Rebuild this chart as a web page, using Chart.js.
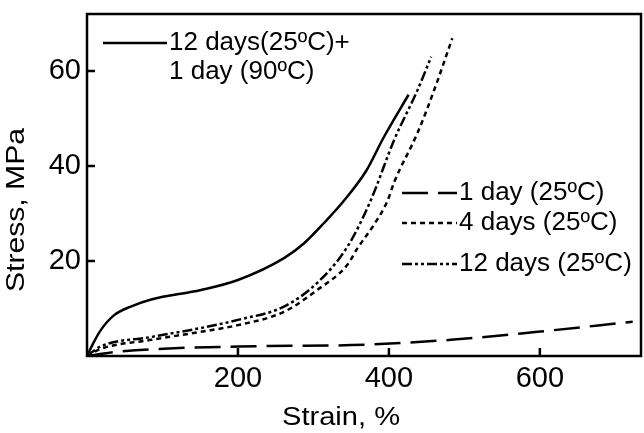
<!DOCTYPE html>
<html>
<head>
<meta charset="utf-8">
<script src="https://cdn.jsdelivr.net/npm/chart.js@4.4.1/dist/chart.umd.min.js"></script>
<style>
  html, body { margin: 0; padding: 0; background: #fff; }
  #wrap { width: 644px; height: 433px; }
</style>
</head>
<body>
<div id="wrap"><canvas id="chartStress"></canvas></div>
<script>
Chart.defaults.font.family = "'Liberation Sans', Arial, sans-serif";
Chart.defaults.color = '#000';

// 12 days(25ºC)+1 day (90ºC)
const strainCured = [0, 8, 18, 36, 58, 85, 151, 200, 261, 288, 314, 342, 370, 393, 426];
const stressCured = [0, 2.6, 5.4, 8.6, 10.4, 11.9, 13.9, 16, 20.6, 23.8, 28, 33, 39, 46, 55];
// 1 day (25ºC)
const strain1d = [0, 40, 200, 350, 482, 597, 723];
const stress1d = [0, 0.9, 2, 2.3, 3.4, 5.1, 7.2];
// 4 days (25ºC)
const strain4d = [0, 18, 85, 151, 200, 261, 305, 345, 358, 380, 398, 407, 438, 460, 484];
const stress4d = [0, 1.5, 3.4, 5.1, 6.5, 9.3, 13.9, 19.2, 22.6, 27.6, 32.6, 36.6, 47, 56, 66.9];
// 12 days (25ºC)
const strain12d = [0, 18, 85, 151, 200, 261, 305, 345, 376, 407, 438, 456];
const stress12d = [0, 2, 4, 5.9, 7.6, 10.4, 15.4, 23, 32.8, 45.5, 56, 63];

const xTicks = [200, 400, 600];
const yTicks = [20, 40, 60];

const xTitle = 'Strain, %';
const yTitle = 'Stress, MPa';
const seriesLabels = ['12 days(25ºC)+', '1 day (25ºC)', '4 days (25ºC)', '12 days (25ºC)'];
const dashes = [[], [26, 10], [5, 4], [10, 3, 3, 3, 3, 3]];

const pts = (xs, ys) => xs.map((x, i) => ({ x: x, y: ys[i] }));

const makeSet = (label, data, dash) => ({
    label: label,
    data: data,
    borderColor: '#000',
    borderWidth: 2.5,
    borderDash: dash,
    pointRadius: 0,
    fill: false,
    cubicInterpolationMode: 'monotone'
});

// axis title drawn a bit wider than the font, like the original figure
function stretchedText(ctx, text, cx, cy, width, rot) {
    ctx.save();
    ctx.translate(cx, cy);
    ctx.rotate(rot);
    const w = ctx.measureText(text).width;
    ctx.scale(width / w, 1);
    ctx.textAlign = 'center';
    ctx.textBaseline = 'middle';
    ctx.fillText(text, 0, 0);
    ctx.restore();
}

// frame, inward ticks, titles and the in-plot legend
const framePlugin = {
    id: 'frame',
    afterDraw(chart) {
        const ctx = chart.ctx;
        const a = chart.chartArea;
        const xs = chart.scales.x, ys = chart.scales.y;
        ctx.save();
        ctx.strokeStyle = '#000';
        ctx.lineWidth = 2.5;
        ctx.strokeRect(a.left, a.top, a.right - a.left, a.bottom - a.top);
        ctx.beginPath();
        xTicks.forEach(v => {
            const px = xs.getPixelForValue(v);
            ctx.moveTo(px, a.bottom);
            ctx.lineTo(px, a.bottom - 8);
        });
        yTicks.forEach(v => {
            const py = ys.getPixelForValue(v);
            ctx.moveTo(a.left, py);
            ctx.lineTo(a.left + 8, py);
        });
        ctx.stroke();

        ctx.fillStyle = '#000';
        ctx.font = "25px 'Liberation Sans', Arial, sans-serif";
        stretchedText(ctx, xTitle, 341, 418, 118, 0);
        stretchedText(ctx, yTitle, 17, 210, 164, -Math.PI / 2);

        // legend
        ctx.font = "26px 'Liberation Sans', Arial, sans-serif";
        ctx.textBaseline = 'middle';
        const rows = [
            { i: 0, x1: 103, x2: 167, y: 43 },
            { i: 1, x1: 402, x2: 457, y: 193 },
            { i: 2, x1: 402, x2: 457, y: 223 },
            { i: 3, x1: 402, x2: 457, y: 264 }
        ];
        rows.forEach(r => {
            ctx.setLineDash(dashes[r.i]);
            ctx.beginPath();
            ctx.moveTo(r.x1, r.y);
            ctx.lineTo(r.x2, r.y);
            ctx.stroke();
            ctx.setLineDash([]);
            ctx.fillText(seriesLabels[r.i], r.x2 + 2, r.y);
        });
        ctx.fillText('1 day (90ºC)', 169, 72);
        ctx.restore();
    }
};

const noEdgePad = s => {
    s.paddingTop = 0; s.paddingBottom = 0;
    s.paddingLeft = 0; s.paddingRight = 0;
};

new Chart(document.getElementById('chartStress').getContext('2d'), {
    type: 'line',
    data: {
        datasets: [
            makeSet(seriesLabels[0], pts(strainCured, stressCured), dashes[0]),
            makeSet(seriesLabels[1], pts(strain1d, stress1d), dashes[1]),
            makeSet(seriesLabels[2], pts(strain4d, stress4d), dashes[2]),
            makeSet(seriesLabels[3], pts(strain12d, stress12d), dashes[3])
        ]
    },
    options: {
        responsive: true,
        maintainAspectRatio: false,
        animation: false,
        layout: { padding: { top: 14, right: 3, left: 0, bottom: 0 } },
        plugins: {
            legend: { display: false },
            tooltip: { enabled: false }
        },
        scales: {
            x: {
                type: 'linear',
                min: 0,
                max: 734,
                afterBuildTicks: s => { s.ticks = xTicks.map(v => ({ value: v })); },
                afterFit: s => { s.height = 77; noEdgePad(s); },
                grid: { display: false, drawTicks: false },
                border: { display: false },
                ticks: { font: { size: 29 }, padding: 6, maxRotation: 0 },
                title: { display: false }
            },
            y: {
                type: 'linear',
                min: 0,
                max: 72,
                afterBuildTicks: s => { s.ticks = yTicks.map(v => ({ value: v })); },
                afterFit: s => { s.width = 87; noEdgePad(s); },
                grid: { display: false, drawTicks: false },
                border: { display: false },
                ticks: { font: { size: 29 }, padding: 6 },
                title: { display: false }
            }
        }
    },
    plugins: [framePlugin]
});
</script>
</body>
</html>
